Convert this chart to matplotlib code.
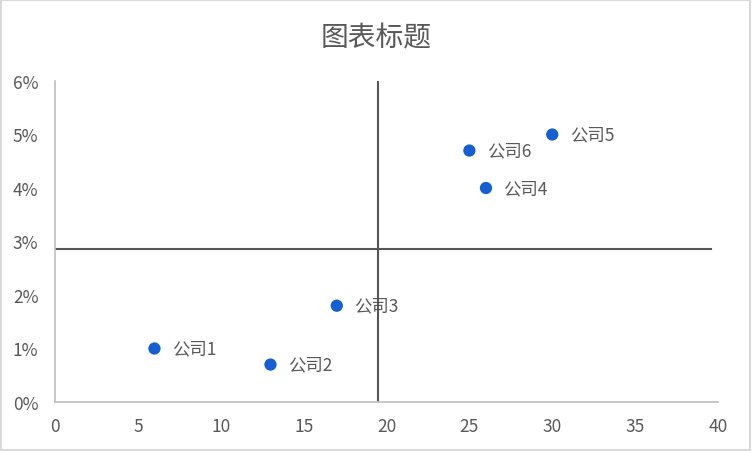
import matplotlib
matplotlib.use("Agg")
import matplotlib.pyplot as plt
from matplotlib.ticker import FuncFormatter

plt.rcParams['font.family'] = ['Noto Sans CJK SC', 'DejaVu Sans']

companies = ["公司1", "公司2", "公司3", "公司4", "公司5", "公司6"]
x_vals = [6, 13, 17, 26, 30, 25]
y_vals = [0.010, 0.007, 0.018, 0.040, 0.050, 0.047]

# quadrant lines at the means
x_mean = sum(x_vals) / len(x_vals)
y_mean = sum(y_vals) / len(y_vals)
hline_end = 39.6

gray = '#595959'
axis_gray = '#BFBFBF'

fig = plt.figure(figsize=(7.52, 4.52), dpi=100)
ax = fig.add_axes([55 / 752, 49 / 452, 663 / 752, 321 / 452])

ax.scatter(x_vals, y_vals, s=78, color='#155FD3', zorder=3, edgecolors='none')
for name, x, y in zip(companies, x_vals, y_vals):
    ax.annotate(name, (x, y), xytext=(12.5, 0), textcoords='offset points',
                va='center', ha='left', fontsize=12.5, color=gray)

ax.plot([x_mean, x_mean], [0, 0.06], color='#555555', lw=1.5, zorder=2)
ax.plot([0, hline_end], [y_mean, y_mean], color='#555555', lw=1.5, zorder=2)

ax.set_xlim(0, 40)
ax.set_ylim(0, 0.06)
ax.set_xticks(range(0, 41, 5))
ax.set_yticks([i / 100 for i in range(7)])
ax.yaxis.set_major_formatter(FuncFormatter(lambda v, p: f"{v * 100:.0f}%"))
ax.tick_params(length=0, labelsize=12.5, colors=gray)
ax.tick_params(axis='y', pad=12)
ax.tick_params(axis='x', pad=10.5)
for side in ['top', 'right']:
    ax.spines[side].set_visible(False)
for side in ['left', 'bottom']:
    ax.spines[side].set_color(axis_gray)
    ax.spines[side].set_linewidth(1.2)

fig.text(0.5, 1 - 38 / 452, "图表标题", ha='center', va='center', fontsize=20, color=gray)

# chart border
border = plt.Rectangle((0.001, 0.002), 0.997, 0.995, transform=fig.transFigure,
                       fill=False, edgecolor='#D9D9D9', lw=1.5)
fig.patches.append(border)

fig.savefig("out.png", dpi=100)
